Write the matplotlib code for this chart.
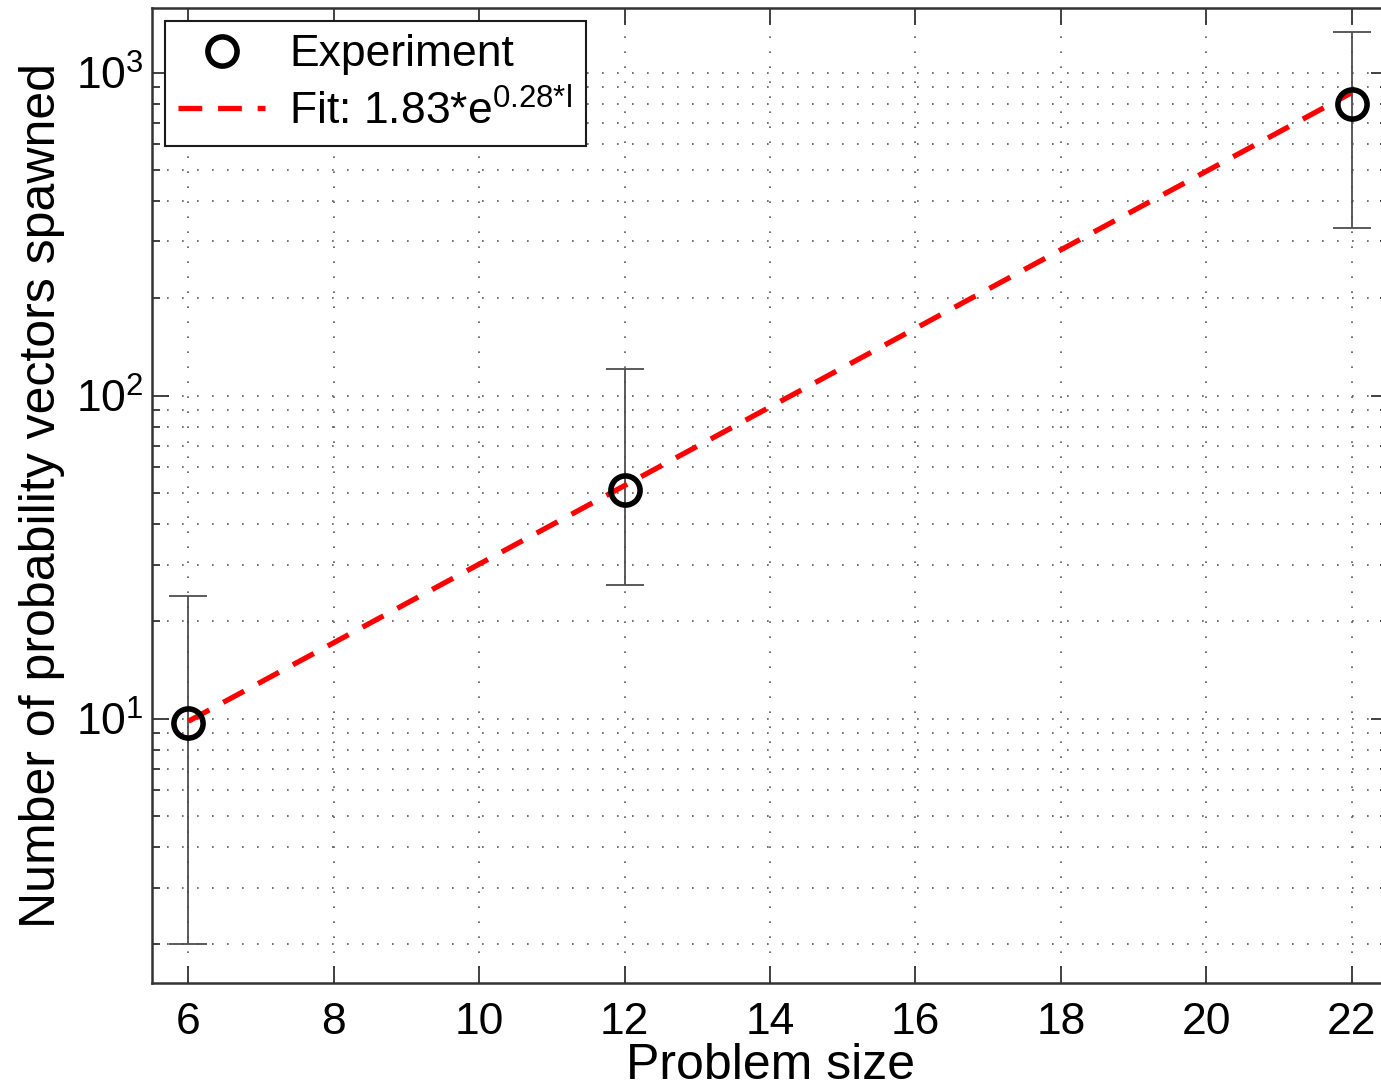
import numpy as np
import matplotlib.pyplot as plt
from matplotlib.ticker import LogLocator, NullFormatter

plt.rcParams['font.family'] = ['Liberation Sans', 'DejaVu Sans']
plt.rcParams['mathtext.fontset'] = 'custom'
plt.rcParams['mathtext.rm'] = 'Liberation Sans'

# measured points
size = np.array([6, 12, 22])
vectors = np.array([9.7, 51.0, 800.0])
err_low = np.array([2.0, 26.0, 330.0])
err_high = np.array([24.0, 121.0, 1340.0])

# exponential fit a*e^(b*l)
fit_a = 1.83
fit_b = 0.28

fig = plt.figure(figsize=(13.81, 10.9), dpi=100)
ax = fig.add_axes([0.1101, 0.0982, 0.8950, 0.8945])

yerr = np.vstack([vectors - err_low, err_high - vectors])
ax.errorbar(size, vectors, yerr=yerr, fmt='none', ecolor='0.3', elinewidth=1.3,
            capsize=14, capthick=1.3, zorder=2)
ax.plot(size, vectors, 'o', ms=21, mfc='none', mec='k', mew=4,
        label='Experiment', zorder=4)

l = np.linspace(size[0], size[-1], 200)
ax.plot(l, fit_a * np.exp(fit_b * l), '--', color='red', lw=3.8, dashes=(4.5, 3),
        label=r'Fit: 1.83*e$^{\mathregular{0.28{*}l}}$', zorder=3)

ax.set_yscale('log')
ax.set_xlim(5.5, 22.5)
ax.set_ylim(1.52, 1585)
ax.set_xticks(np.arange(6, 23, 2))
ax.yaxis.set_major_locator(LogLocator(base=10, numticks=10))
ax.yaxis.set_minor_locator(LogLocator(base=10, subs=np.arange(2, 10), numticks=10))
ax.yaxis.set_minor_formatter(NullFormatter())

ax.tick_params(which='both', direction='in', top=True, right=True, labelsize=32,
               width=1.3, color='0.2')
ax.tick_params(which='major', length=12)
ax.tick_params(which='minor', length=6)
ax.tick_params(axis='x', pad=14)
ax.tick_params(axis='y', pad=6)

ax.grid(True, which='major', axis='x', linestyle=(0, (1, 8)), color='0.35', lw=1.2)
ax.grid(True, which='both', axis='y', linestyle=(0, (1, 8)), color='0.35', lw=1.2)
for s in ax.spines.values():
    s.set_linewidth(1.8)
    s.set_color('0.2')

ax.set_xlabel('Problem size', fontsize=36, labelpad=0)
ax.set_ylabel('Number of probability vectors spawned', fontsize=36, labelpad=8)

leg = ax.legend(loc='upper left', bbox_to_anchor=(0.0105, 0.9867), fontsize=32,
                fancybox=False, framealpha=1, edgecolor='0.1', handlelength=1.95,
                borderpad=0.3, labelspacing=0.3, handletextpad=0.55,
                borderaxespad=0)
leg.get_frame().set_linewidth(1.5)

fig.savefig('out.png', dpi=100)
